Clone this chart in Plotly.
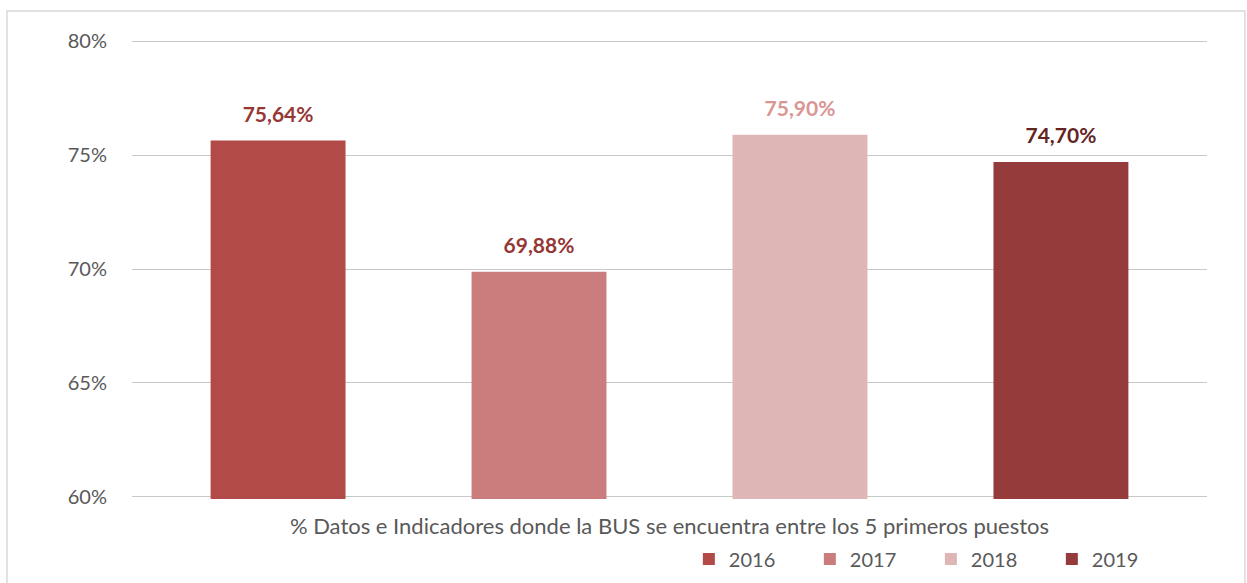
import plotly.graph_objects as go

category = ["% Datos e Indicadores donde la BUS se encuentra entre los 5 primeros puestos"]
years = ["2016", "2017", "2018", "2019"]
values = [0.7564, 0.6988, 0.7590, 0.7470]
labels = ["75,64%", "69,88%", "75,90%", "74,70%"]
bar_colors = ["#B24A47", "#CA7D7C", "#DFB6B6", "#963B3B"]
label_colors = ["#953735", "#953735", "#D99694", "#632523"]
y_ticks = [0.60, 0.65, 0.70, 0.75, 0.80]

FONT = "Lato, 'Open Sans', sans-serif"

fig = go.Figure()
for i, yr in enumerate(years):
    fig.add_trace(go.Bar(
        x=category, y=[values[i]], name=yr,
        marker=dict(color=bar_colors[i], line=dict(width=0)),
        offsetgroup=yr,
    ))
for i, yr in enumerate(years):
    fig.add_trace(go.Scatter(
        x=category, y=[values[i]], mode="markers+text",
        text=[labels[i]], textposition="top center",
        textfont=dict(family=FONT, size=21, color=label_colors[i], weight="bold"),
        marker=dict(size=20, color="rgba(0,0,0,0)"),
        offsetgroup=yr, showlegend=False, hoverinfo="skip", cliponaxis=False,
    ))

fig.update_layout(
    width=1247, height=583,
    margin=dict(l=132, r=40, t=39, b=84),
    barmode="group", bargap=0.029, bargroupgap=0.483,
    scattermode="group", scattergap=0.029,
    paper_bgcolor="white", plot_bgcolor="white",
    font=dict(family=FONT, size=20, color="#595959"),
    showlegend=True,
    legend=dict(orientation="h", x=0.518, xanchor="left", xref="paper",
                y=0.0412, yanchor="middle", yref="container",
                font=dict(size=20, color="#595959"), entrywidth=76, traceorder="normal"),
    xaxis=dict(showgrid=False, showline=False, ticks="", ticklabelstandoff=12,
               automargin=False, tickfont=dict(size=22, color="#595959")),
    yaxis=dict(range=[0.599, 0.801], tickvals=y_ticks, tickformat=".0%",
               showgrid=True, gridcolor="#C8C8C8", gridwidth=1.3, automargin=False,
               zeroline=False, showline=False, ticks="", ticklabelstandoff=24,
               tickfont=dict(size=20, color="#595959")),
    shapes=[dict(type="rect", xref="paper", yref="paper",
                 x0=-0.1163, x1=1.0353, y0=-0.2, y1=1.0609,
                 line=dict(color="#D9D9D9", width=1.5), fillcolor="rgba(0,0,0,0)", layer="below")],
)

fig.write_html("out.html", config={"displayModeBar": False},
               post_script="document.body.style.margin='0px';")
